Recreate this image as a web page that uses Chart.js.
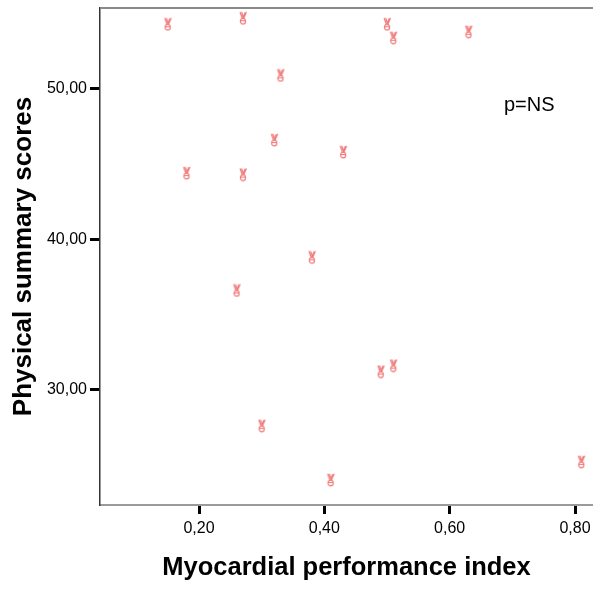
<!DOCTYPE html>
<html>
<head>
<meta charset="utf-8">
<script src="https://cdn.jsdelivr.net/npm/chart.js@4/dist/chart.umd.min.js"></script>
<style>
  html, body { margin: 0; padding: 0; background: #fff; overflow: hidden; }
  #wrap { width: 593px; height: 589px; }
</style>
</head>
<body>
<div id="wrap"><canvas id="scatter" width="593" height="589"></canvas></div>
<script>
// values
const mpiValues = [0.15, 0.27, 0.50, 0.51, 0.63, 0.33, 0.32, 0.43, 0.18, 0.27, 0.38, 0.26, 0.49, 0.51, 0.30, 0.41, 0.81];
const physicalScores = [54.3, 54.7, 54.3, 53.4, 53.8, 50.9, 46.6, 45.8, 44.4, 44.3, 38.8, 36.6, 31.2, 31.6, 27.6, 24.0, 25.2];
const xTickValues = [0.20, 0.40, 0.60, 0.80];
const yTickValues = [30, 40, 50];
const annotationText = "p=NS";

const points = mpiValues.map((v, i) => ({ x: v, y: physicalScores[i] }));

// little pink "peace hand" marker like the SPSS one
const marker = document.createElement("canvas");
marker.width = 10;
marker.height = 14;
const mctx = marker.getContext("2d");
mctx.strokeStyle = "#f07a7a";
mctx.lineWidth = 1.2;
mctx.lineCap = "round";
mctx.beginPath();
mctx.moveTo(2.2, 1.2); mctx.lineTo(4.3, 7);
mctx.moveTo(3.8, 1.2); mctx.lineTo(5.6, 6.5);
mctx.moveTo(8.3, 1.2); mctx.lineTo(5.8, 7);
mctx.moveTo(7, 1.5); mctx.lineTo(5.4, 6);
mctx.stroke();
mctx.beginPath();
mctx.ellipse(5, 10, 2.6, 2.9, 0, 0, Math.PI * 2);
mctx.stroke();
mctx.beginPath();
mctx.moveTo(3.2, 9.5); mctx.lineTo(6.8, 9.5);
mctx.stroke();

const frame = {
    id: "frame",
    afterDraw(chart) {
        const { ctx, chartArea } = chart;
        ctx.save();
        // top line
        ctx.strokeStyle = "#8a8a8a";
        ctx.lineWidth = 2;
        ctx.beginPath();
        ctx.moveTo(chartArea.left, chartArea.top);
        ctx.lineTo(chartArea.right, chartArea.top);
        ctx.stroke();
        // p value text
        ctx.fillStyle = "#000";
        ctx.font = "20px 'Liberation Sans', Arial, sans-serif";
        ctx.textAlign = "left";
        ctx.textBaseline = "alphabetic";
        ctx.fillText(annotationText, 504, 111);
        ctx.restore();
    }
};

const ctx = document.getElementById("scatter").getContext("2d");

new Chart(ctx, {
    type: "scatter",
    data: {
        datasets: [{
            label: "MPI",
            data: points,
            pointStyle: marker,
            pointRadius: 6
        }]
    },
    options: {
        responsive: false,
        animation: false,
        layout: { autoPadding: false, padding: { left: 0, right: 0, top: 8, bottom: 0 } },
        plugins: {
            legend: { display: false },
            tooltip: { enabled: false }
        },
        scales: {
            x: {
                type: "linear",
                min: 0.042,
                max: 0.8287,
                afterBuildTicks: (scale) => { scale.ticks = xTickValues.map(v => ({ value: v })); },
                afterFit: (scale) => {
                    scale.height = 84;
                    scale.paddingLeft = 0;
                    scale.paddingRight = 0;
                },
                border: { display: true, color: "#9a9a9a", width: 2 },
                grid: {
                    drawOnChartArea: false,
                    drawTicks: true,
                    tickLength: 9,
                    tickWidth: 3,
                    tickColor: "#000"
                },
                ticks: {
                    color: "#000",
                    padding: 5,
                    maxRotation: 0,
                    font: { family: "'Liberation Sans', Arial, sans-serif", size: 16 },
                    callback: (v) => Number(v).toFixed(2).replace(".", ",")
                },
                title: {
                    display: true,
                    text: "Myocardial performance index",
                    color: "#000",
                    padding: { top: 0, bottom: 6 },
                    font: { family: "'Liberation Sans', Arial, sans-serif", size: 25.5, weight: "bold" }
                }
            },
            y: {
                type: "linear",
                min: 22.33,
                max: 55.38,
                afterBuildTicks: (scale) => { scale.ticks = yTickValues.map(v => ({ value: v })); },
                afterFit: (scale) => {
                    scale.width = 100;
                    scale.paddingTop = 0;
                    scale.paddingBottom = 0;
                },
                border: { display: true, color: "#333", width: 1.5 },
                grid: {
                    drawOnChartArea: false,
                    drawTicks: true,
                    tickLength: 10,
                    tickWidth: 3,
                    tickColor: "#000"
                },
                ticks: {
                    color: "#000",
                    padding: 3,
                    font: { family: "'Liberation Sans', Arial, sans-serif", size: 16 },
                    callback: (v) => Number(v).toFixed(2).replace(".", ",")
                },
                title: {
                    display: true,
                    text: "Physical summary scores",
                    color: "#000",
                    padding: { top: 8, bottom: 0 },
                    font: { family: "'Liberation Sans', Arial, sans-serif", size: 26, weight: "bold" }
                }
            }
        }
    },
    plugins: [frame]
});
</script>
</body>
</html>
